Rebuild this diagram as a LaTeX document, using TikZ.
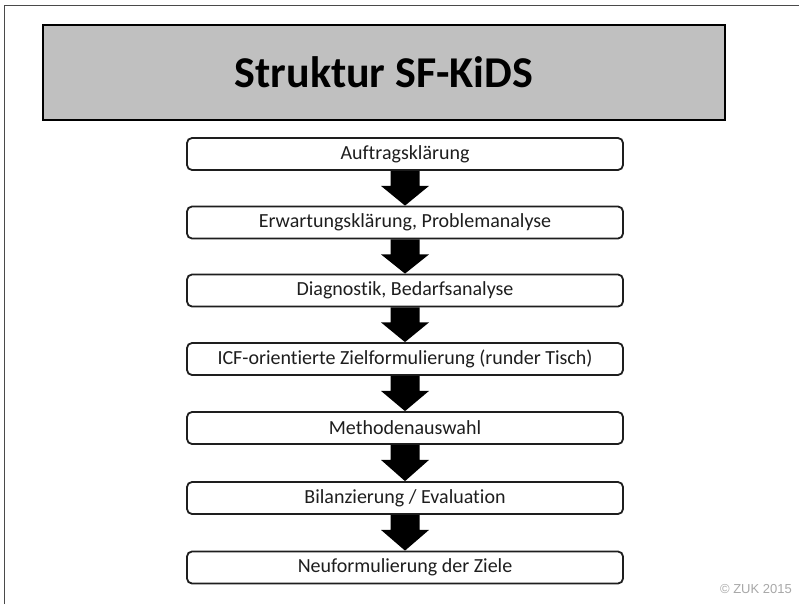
\documentclass[tikz,border=0pt]{standalone}
\usepackage{fontspec}
\setmainfont{Carlito}[Ligatures={NoCommon}]
\newfontfamily\notefont{Liberation Sans}
\usetikzlibrary{calc}
\definecolor{framegray}{HTML}{4A4A4A}
\definecolor{titlefill}{HTML}{C0C0C0}
\definecolor{inkdark}{HTML}{1E1E1E}
\definecolor{notegray}{HTML}{A8A8A8}
\tikzset{
  stepbox/.style={draw=inkdark, line width=1.8pt, rounded corners=5pt, fill=white,
    minimum width=436pt, minimum height=32pt, inner sep=0pt,
    font=\fontsize{20}{24}\selectfont, text=inkdark},
  titlebox/.style={draw=black, line width=2pt, fill=titlefill,
    minimum width=682pt, minimum height=95pt, inner sep=0pt,
    font=\fontsize{44}{50}\selectfont\bfseries, text=black},
  flowarrow/.style={fill=black, draw=none},
}
% block arrow from the bottom of one step to the top of the next
% (y axis points down in this picture)
\newcommand{\flowstep}[2]{%
  \fill[flowarrow]
    ($(#1.south)+(-14.5,0)$) -- ($(#1.south)+(14.5,0)$) --
    ($(#1.south)+(14.5,15)$) -- ($(#1.south)+(24,15)$) --
    (#2.north) --
    ($(#1.south)+(-24,15)$) -- ($(#1.south)+(-14.5,15)$) -- cycle;}
\begin{document}
\begin{tikzpicture}[x=1pt,y=-1pt]
  \useasboundingbox (0,0) rectangle (799,604);
  \fill[white] (0,0) rectangle (799,604);
  % slide border (top and left edges)
  \draw[framegray, line width=1.5pt] (4.5,604) -- (4.5,5.5) -- (799,5.5);
  % heading
  \node[titlebox] (title) at (384,72.5) {\raisebox{-4pt}{Struktur SF-KiDS}};
  % process steps
  \node[stepbox] (s1) at (405,154) {Auftragsklärung};
  \node[stepbox] (s2) at (405,222.5) {Erwartungsklärung, Problemanalyse};
  \node[stepbox] (s3) at (405,290.5) {Diagnostik, Bedarfsanalyse};
  \node[stepbox] (s4) at (405,359) {ICF-orientierte Zielformulierung (runder Tisch)};
  \node[stepbox] (s5) at (405,428) {Methodenauswahl};
  \node[stepbox] (s6) at (405,498) {Bilanzierung / Evaluation};
  \node[stepbox] (s7) at (405,567.5) {Neuformulierung der Ziele};
  % arrows between steps
  \flowstep{s1}{s2}
  \flowstep{s2}{s3}
  \flowstep{s3}{s4}
  \flowstep{s4}{s5}
  \flowstep{s5}{s6}
  \flowstep{s6}{s7}
  % copyright note
  \node[anchor=base east, text=notegray, font=\notefont\fontsize{13}{15}\selectfont, inner sep=0pt]
    (note) at (792,593) {© ZUK 2015};
\end{tikzpicture}
\end{document}
